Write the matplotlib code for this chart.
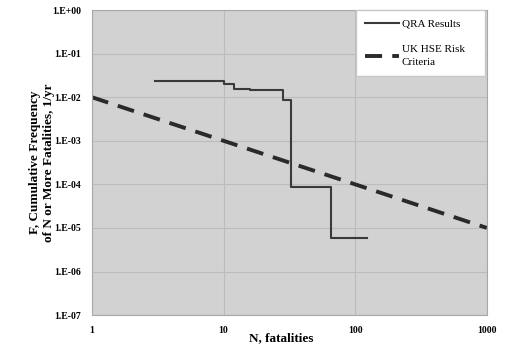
import matplotlib.pyplot as plt
from matplotlib.ticker import FixedLocator, NullLocator

# QRA step curve (N, F)
qra_n = [3, 10, 10, 12, 12, 16, 16, 28.5, 28.5, 32.5, 32.5, 65, 65, 123]
qra_f = [2.4e-2, 2.4e-2, 2.0e-2, 2.0e-2, 1.55e-2, 1.55e-2, 1.48e-2, 1.48e-2,
         8.7e-3, 8.7e-3, 8.5e-5, 8.5e-5, 5.8e-6, 5.8e-6]

# UK HSE criterion line
hse_n = [1, 1000]
hse_f = [1e-2, 1e-5]

y_ticks = [1e0, 1e-1, 1e-2, 1e-3, 1e-4, 1e-5, 1e-6, 1e-7]
y_labels = ["1.E+00", "1.E-01", "1.E-02", "1.E-03", "1.E-04", "1.E-05", "1.E-06", "1.E-07"]
x_ticks = [1, 10, 100, 1000]
x_labels = ["1", "10", "100", "1000"]

plt.rcParams['font.family'] = ['Liberation Serif', 'DejaVu Serif']

fig = plt.figure(figsize=(5.05, 3.47), dpi=100)
ax = fig.add_axes([0.182, 0.092, 0.782, 0.879], facecolor="#d2d2d2")

ax.plot(qra_n, qra_f, color="#3a3a3a", lw=1.5, label="QRA Results    ")
ax.plot(hse_n, hse_f, color="#2a2a2a", lw=2.8, dashes=(4.4, 2.6), label="UK HSE Risk    \nCriteria")

ax.set_xscale("log")
ax.set_yscale("log")
ax.set_xlim(1, 1000)
ax.set_ylim(1e-7, 1)
ax.xaxis.set_major_locator(FixedLocator(x_ticks))
ax.yaxis.set_major_locator(FixedLocator(y_ticks))
ax.xaxis.set_minor_locator(NullLocator())
ax.yaxis.set_minor_locator(NullLocator())
ax.set_xticklabels(x_labels, fontsize=7, fontweight="bold")
ax.set_yticklabels(y_labels, fontsize=7, fontweight="bold")
ax.tick_params(length=0, pad=8)
ax.grid(True, color="#bcbcbc", lw=0.8)
for s in ax.spines.values():
    s.set_color("#a8a8a8")

ax.set_xlabel("N, fatalities", fontsize=9.5, fontweight="bold", labelpad=-2)
ax.xaxis.set_label_coords(0.48, -0.055)
ax.set_ylabel("F, Cumulative Frequency\nof N or More Fatalities, 1/yr",
              fontsize=9.5, fontweight="bold", labelpad=-2.5)

leg = ax.legend(loc="upper right", bbox_to_anchor=(0.995, 1.0), fontsize=8,
                frameon=True, fancybox=False, framealpha=1, edgecolor="#c8c8c8",
                handlelength=3.0, handletextpad=0.3, borderaxespad=0,
                labelspacing=1.5, borderpad=0.8)
for t in leg.get_texts():
    t.set_linespacing(1.5)

plt.savefig("out.png", dpi=100)
